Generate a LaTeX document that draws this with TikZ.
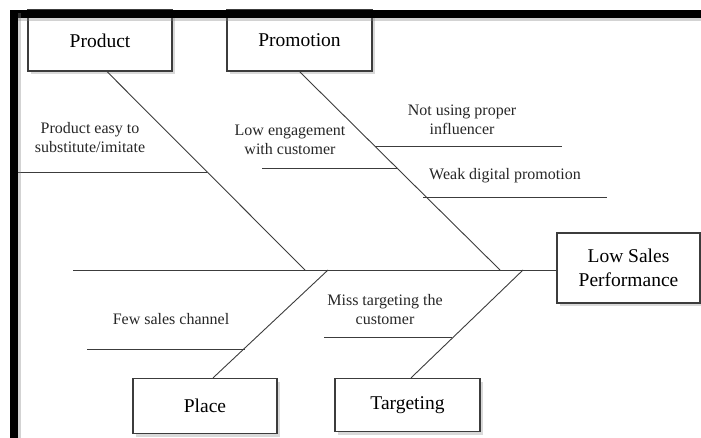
\documentclass[tikz,border=0pt]{standalone}
\usepackage{fontspec}
\setmainfont{Liberation Serif}
\usetikzlibrary{positioning, calc, shadows}
\definecolor{CLine}{HTML}{3C3C3C}

\begin{document}
\begin{tikzpicture}[x=1pt, y=-1pt,
    catbox/.style={draw=CLine, fill=white, line width=1.2pt, font=\fontsize{19.5}{24}\selectfont,
        drop shadow={shadow xshift=3pt, shadow yshift=-3pt, opacity=0.3}},
    cause/.style={font=\fontsize{16}{19}\selectfont, align=center, text=black!85},
    bone/.style={draw=CLine, line width=0.9pt}]
    \useasboundingbox (0,0) rectangle (701,438);

    % category boxes
    \node[catbox, minimum width=144pt, minimum height=61pt] (product) at (100,40.5) {Product};
    \node[catbox, minimum width=145pt, minimum height=61pt] (promotion) at (299.5,40.5) {Promotion};
    \node[catbox, minimum width=144pt, minimum height=55pt] (place) at (205,406) {Place};
    \node[catbox, minimum width=145pt, minimum height=53pt] (targeting) at (407.5,405) {Targeting};
    \node[catbox, minimum width=143pt, minimum height=70pt, align=center] (effect) at (628.5,268) {Low Sales\\Performance};

    % spine and junctions
    \coordinate (tail) at (73,270);
    \coordinate (jprod) at (305,270);
    \coordinate (jprom) at (500,270);
    \coordinate (jplace) at (328,270);
    \coordinate (jtarg) at (523,270);
    \draw[bone] (tail) -- (effect.west |- tail);

    % main bones
    \draw[bone] ($(product.south)+(7,0)$) -- (jprod);
    \draw[bone] (promotion.south) -- (jprom);
    \draw[bone] (jplace) -- ($(place.north)+(8,0)$);
    \draw[bone] (jtarg) -- ($(targeting.north)+(3.5,0)$);

    % Product
    \node[cause] (easy) at (90,138) {Product easy to\\substitute/imitate};
    \coordinate (easyL) at (18,172);
    \coordinate (easyR) at (207,172);
    \draw[bone] (easyL) -- (easyR);

    % Promotion
    \node[cause] (engage) at (290,140) {Low engagement\\with customer};
    \coordinate (engageL) at (262,168);
    \coordinate (engageR) at (397,168);
    \draw[bone] (engageL) -- (engageR);
    \node[cause] (influencer) at (462,120) {Not using proper\\influencer};
    \coordinate (influencerL) at (375,146);
    \coordinate (influencerR) at (562,146);
    \draw[bone] (influencerL) -- (influencerR);
    \node[cause] (digital) at (505,176) {Weak digital promotion};
    \coordinate (digitalL) at (423,197);
    \coordinate (digitalR) at (607,197);
    \draw[bone] (digitalL) -- (digitalR);

    % Place
    \node[cause] (channel) at (171,319) {Few sales channel};
    \coordinate (channelL) at (87,349);
    \coordinate (channelR) at (245,349);
    \draw[bone] (channelL) -- (channelR);

    % Targeting
    \node[cause] (miss) at (385,310) {Miss targeting the\\customer};
    \coordinate (missL) at (324,337);
    \coordinate (missR) at (452,337);
    \draw[bone] (missL) -- (missR);

    % frame
    \fill[black, drop shadow={shadow xshift=3pt, shadow yshift=-3pt, opacity=0.35}] (10,10) rectangle (701,18);
    \fill[black, drop shadow={shadow xshift=3pt, shadow yshift=-3pt, opacity=0.35}] (10,10) rectangle (18,438);
\end{tikzpicture}
\end{document}
